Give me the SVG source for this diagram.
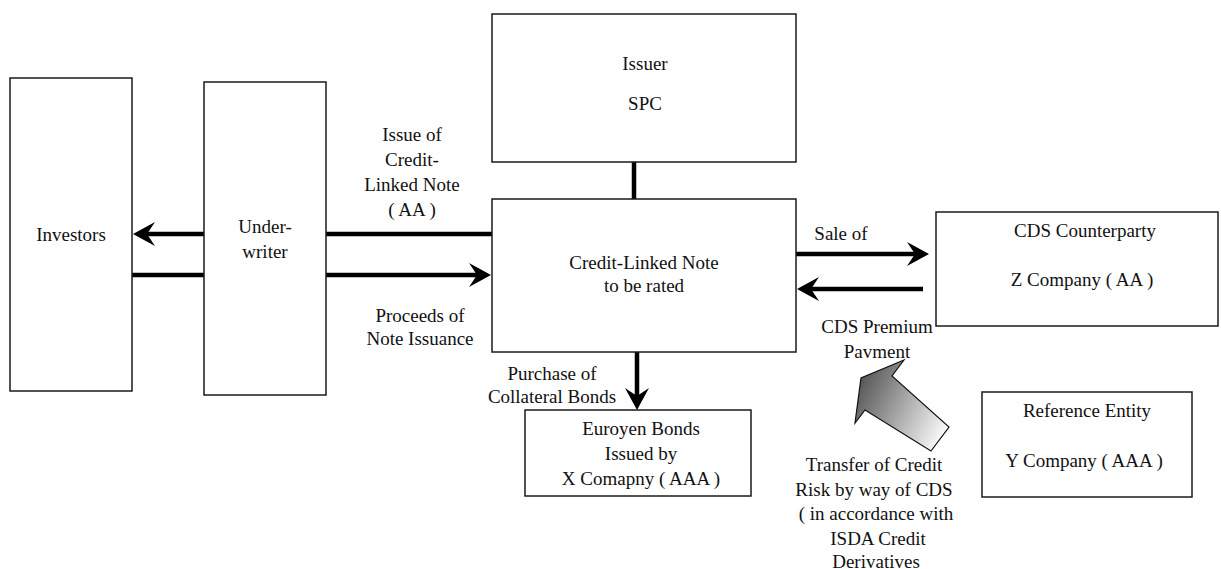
<svg xmlns="http://www.w3.org/2000/svg" width="1221" height="569" viewBox="0 0 1221 569">
  <style>
    .box { fill: #ffffff; stroke: #1a1a1a; stroke-width: 1.5; }
    .lbl { font-family: "Liberation Serif", "Times New Roman", serif; font-size: 19px; fill: #111111; text-anchor: middle; }
    .flow { stroke: #000000; stroke-width: 4.5; fill: none; }
  </style>
  <defs>
    <!-- concave arrowhead; tip sits 10px beyond the line end -->
    <marker id="head" viewBox="0 0 22 24" refX="12" refY="12" markerWidth="22" markerHeight="24" markerUnits="userSpaceOnUse" orient="auto">
      <path d="M0,0 L22,12 L0,24 L8,12 Z" fill="#000000"/>
    </marker>
    <linearGradient id="riskFill" gradientUnits="userSpaceOnUse" x1="855" y1="395" x2="945" y2="440">
      <stop offset="0" stop-color="#5a5a5a"/>
      <stop offset="1" stop-color="#ffffff"/>
    </linearGradient>
  </defs>

  <!-- connectors -->
  <g id="connectors">
    <!-- note issue: CLN -> underwriter -> investors -->
    <line class="flow" x1="492" y1="234" x2="326" y2="234"/>
    <line class="flow" x1="204" y1="234" x2="143" y2="234" marker-end="url(#head)"/>
    <!-- proceeds: investors -> underwriter -> CLN -->
    <line class="flow" x1="132" y1="275" x2="204" y2="275"/>
    <line class="flow" x1="326" y1="275" x2="481" y2="275" marker-end="url(#head)"/>
    <!-- issuer to CLN -->
    <line class="flow" x1="634" y1="162" x2="634" y2="199" stroke-width="5"/>
    <!-- purchase of collateral bonds -->
    <line class="flow" x1="637" y1="352" x2="637" y2="400" marker-end="url(#head)"/>
    <!-- sale of CDS -->
    <line class="flow" x1="796" y1="254" x2="919" y2="254" marker-end="url(#head)"/>
    <!-- CDS premium payment -->
    <line class="flow" x1="923" y1="289" x2="807" y2="289" marker-end="url(#head)"/>
    <!-- credit risk transfer block arrow -->
    <polygon points="904,360 861,378 855,423 865,410 931,451 949,427 892,376" fill="url(#riskFill)" stroke="#111111" stroke-width="1.2"/>
  </g>

  <g id="investors">
    <rect class="box" x="10" y="78" width="122" height="313"/>
    <text class="lbl" x="71" y="241">Investors</text>
  </g>

  <g id="underwriter">
    <rect class="box" x="204" y="82" width="122" height="313"/>
    <text class="lbl" x="265" y="233">Under-</text>
    <text class="lbl" x="265" y="258">writer</text>
  </g>

  <g id="issuer">
    <rect class="box" x="492" y="14" width="304" height="148"/>
    <text class="lbl" x="645" y="70">Issuer</text>
    <text class="lbl" x="645" y="110">SPC</text>
  </g>

  <g id="cln">
    <rect class="box" x="492" y="199" width="304" height="153"/>
    <text class="lbl" x="644" y="269">Credit-Linked Note</text>
    <text class="lbl" x="644" y="292">to be rated</text>
  </g>

  <g id="euroyen-bonds">
    <rect class="box" x="525" y="410" width="226" height="86"/>
    <text class="lbl" x="641" y="435">Euroyen Bonds</text>
    <text class="lbl" x="641" y="460">Issued by</text>
    <text class="lbl" x="641" y="485">X Comapny ( AAA )</text>
  </g>

  <g id="cds-counterparty">
    <rect class="box" x="936" y="212" width="282" height="114"/>
    <text class="lbl" x="1085" y="237">CDS Counterparty</text>
    <text class="lbl" x="1082" y="286">Z Company ( AA )</text>
  </g>

  <g id="reference-entity">
    <rect class="box" x="982" y="392" width="210" height="105"/>
    <text class="lbl" x="1087" y="417">Reference Entity</text>
    <text class="lbl" x="1084" y="467">Y Company ( AAA )</text>
  </g>

  <!-- flow labels -->
  <g id="labels">
    <text class="lbl" x="412" y="141">Issue of</text>
    <text class="lbl" x="412" y="166">Credit-</text>
    <text class="lbl" x="412" y="191">Linked Note</text>
    <text class="lbl" x="412" y="216">( AA )</text>

    <text class="lbl" x="420" y="322">Proceeds of</text>
    <text class="lbl" x="420" y="345">Note Issuance</text>

    <text class="lbl" x="552" y="380">Purchase of</text>
    <text class="lbl" x="552" y="403">Collateral Bonds</text>

    <text class="lbl" x="841" y="240">Sale of</text>

    <text class="lbl" x="877" y="333">CDS Premium</text>
    <text class="lbl" x="877" y="358">Pavment</text>

    <text class="lbl" x="874" y="471">Transfer of Credit</text>
    <text class="lbl" x="874" y="496">Risk by way of CDS</text>
    <text class="lbl" x="876" y="520">( in accordance with</text>
    <text class="lbl" x="878" y="545">ISDA Credit</text>
    <text class="lbl" x="876" y="568">Derivatives</text>
  </g>
</svg>
